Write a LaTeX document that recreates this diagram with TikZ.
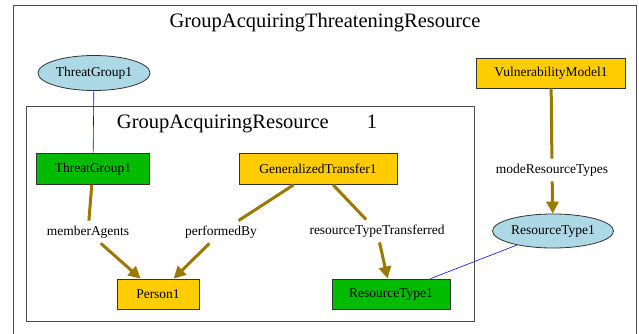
\documentclass[tikz,border=0pt]{standalone}
\usepackage{fontspec}
\setmainfont{Liberation Serif}
\usetikzlibrary{arrows.meta,shapes.geometric}
\definecolor{boxgreen}{HTML}{00BB00}
\definecolor{boxgold}{HTML}{FFCC00}
\definecolor{instblue}{HTML}{ADD8E6}
\definecolor{reledge}{HTML}{9C7800}
\tikzset{
  bigtitle/.style={font=\fontsize{20.5}{24}\selectfont},
  nodetext/.style={font=\fontsize{13.5}{16}\selectfont},
  framebox/.style={draw=black!70, line width=0.8pt},
  typebox/.style={nodetext, draw=black!80, line width=0.8pt, minimum height=31pt, inner sep=1pt},
  typegreen/.style={typebox, fill=boxgreen},
  typegold/.style={typebox, fill=boxgold},
  instance/.style={nodetext, ellipse, draw=black!80, line width=0.8pt, fill=instblue, inner sep=0pt},
  rellabel/.style={nodetext, inner sep=5pt},
  relline/.style={draw=reledge, line width=3pt},
  relarrow/.style={relline, -{Triangle[length=12pt,width=12pt]}},
  instline/.style={draw=blue, line width=0.6pt},
}

\begin{document}
\begin{tikzpicture}[x=1pt,y=1pt]
   \clip (0,0) rectangle (639,333);
   \fill[white] (0,0) rectangle (639,333);

   % outer and inner clusters
   \draw[framebox] (13,328) rectangle (636,-10);
   \node[bigtitle] (outerTitle) at (325,310) {GroupAcquiringThreateningResource};
   \draw[framebox] (26,227) rectangle (474,12);
   \node[bigtitle] (innerTitle) at (247,209) {GroupAcquiringResource\hspace{38pt}1};

   % instances
   \node[instance, minimum width=112pt, minimum height=35pt] (tgInst) at (94,260) {ThreatGroup1};
   \node[instance, minimum width=121pt, minimum height=34pt] (rtInst) at (553,102) {ResourceType1};

   % types
   \node[typegreen, minimum width=113pt] (threatGroup) at (93,164) {ThreatGroup1};
   \node[typegold, minimum width=158pt] (transfer) at (318,164) {GeneralizedTransfer1};
   \node[typegold, minimum width=149pt, minimum height=30pt] (vulnModel) at (551,260) {VulnerabilityModel1};
   \node[typegold, minimum width=82pt, minimum height=30pt] (person) at (158,39) {Person1};
   \node[typegreen, minimum width=118pt, minimum height=30pt] (resType) at (391,39) {ResourceType1};

   % relation labels
   \node[rellabel] (memberAgents) at (88,101) {memberAgents};
   \node[rellabel] (performedBy) at (221,101) {performedBy};
   \node[rellabel] (rtTransferred) at (377,102) {resourceTypeTransferred};
   \node[rellabel] (modeTypes) at (552,163) {modeResourceTypes};

   \draw[relline] (threatGroup) -- (memberAgents);
   \draw[relarrow] (memberAgents) -- (person);
   \draw[relline] (transfer) -- (performedBy);
   \draw[relarrow] (performedBy) -- (person);
   \draw[relline] (transfer) -- (rtTransferred);
   \draw[relarrow] (rtTransferred) -- (resType);
   \draw[relline] (vulnModel) -- (modeTypes);
   \draw[relarrow] (modeTypes) -- (rtInst);

   % instance links
   \draw[instline] (tgInst) -- (threatGroup);
   \draw[instline] (rtInst) -- (resType);
\end{tikzpicture}
\end{document}
